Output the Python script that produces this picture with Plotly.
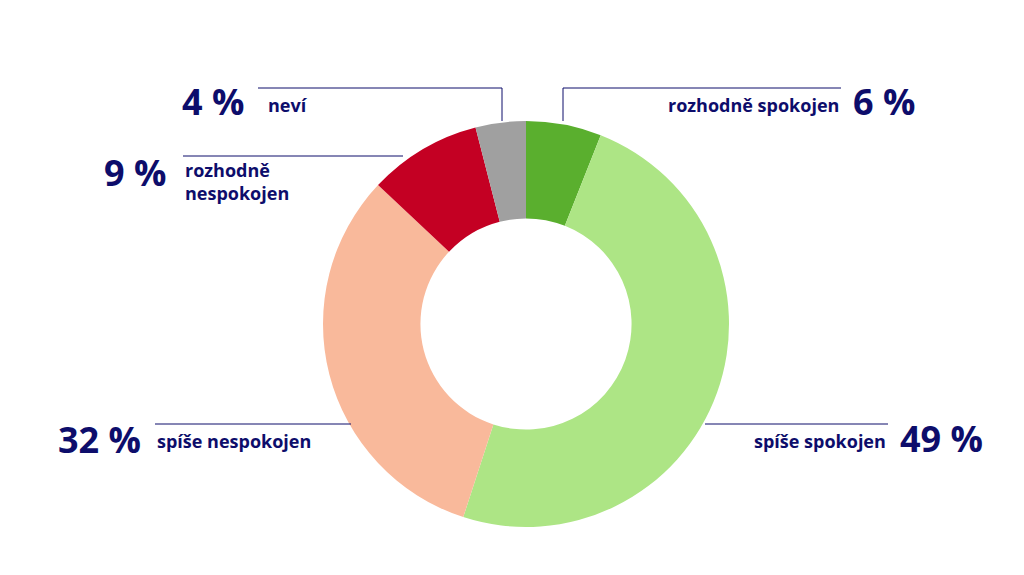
import plotly.graph_objects as go

labels = ["rozhodně spokojen", "spíše spokojen", "spíše nespokojen", "rozhodně nespokojen", "neví"]
values = [6, 49, 32, 9, 4]
colors = ["#5aaf2e", "#ade585", "#f9b99b", "#c40023", "#a0a0a0"]
navy = "#0d0d6b"
W, H = 1024, 575

def px(x): return x / W
def py(y): return 1 - y / H

fig = go.Figure(go.Pie(labels=labels, values=values, hole=0.52, sort=False,
                       direction="clockwise", rotation=0,
                       marker=dict(colors=colors, line=dict(width=0)),
                       textinfo="none", hoverinfo="label+percent",
                       domain=dict(x=[px(315), px(721)], y=[py(519), py(113)])))

shapes = []
def line(pts):
    for (x0, y0), (x1, y1) in zip(pts[:-1], pts[1:]):
        shapes.append(dict(type="line", xref="paper", yref="paper",
                           x0=px(x0), y0=py(y0), x1=px(x1), y1=py(y1),
                           line=dict(color=navy, width=1)))
line([(555, 113), (555, 80), (833, 80)])
line([(697, 416), (880, 416)])
line([(147, 416), (343, 416)])
line([(175, 148), (395, 148)])
line([(250, 80), (494, 80), (494, 113)])

ann = []
def txt(x, y, s, size, xanchor):
    ann.append(dict(x=px(x), y=py(y), xref="paper", yref="paper", text=s,
                    showarrow=False, xanchor=xanchor, yanchor="middle", align="left",
                    font=dict(family="Open Sans", size=size, color=navy, weight="bold")))
txt(833, 97, labels[0], 18, "right"); txt(843, 94, f"{values[0]} %", 36, "left")
txt(880, 433, labels[1], 18, "right"); txt(890, 430, f"{values[1]} %", 36, "left")
txt(147, 433, labels[2], 18, "left"); txt(135, 432, f"{values[2]} %", 36, "right")
txt(175, 174, "rozhodně<br>nespokojen", 18, "left"); txt(160, 164, f"{values[3]} %", 36, "right")
txt(258, 97, labels[4], 18, "left"); txt(238, 94, f"{values[4]} %", 36, "right")

fig.update_layout(width=W, height=H, margin=dict(l=0, r=0, t=0, b=0),
                  showlegend=False, paper_bgcolor="white", shapes=shapes, annotations=ann)
fig.write_html("out.html")
